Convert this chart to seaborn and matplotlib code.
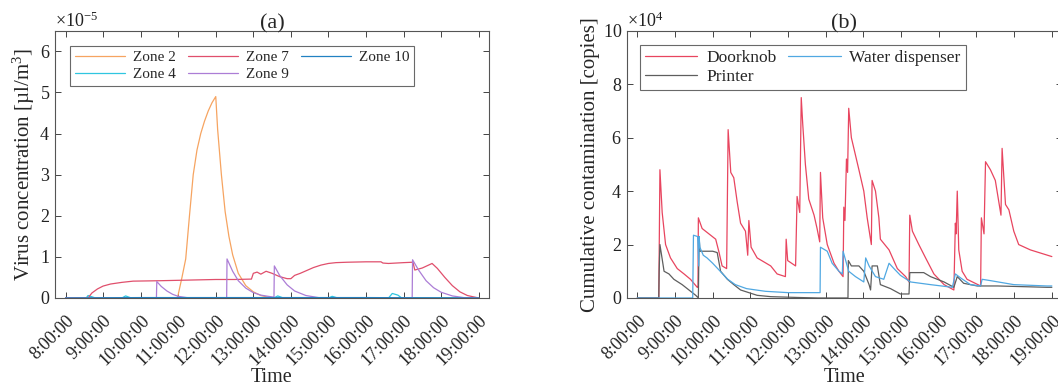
import pandas as pd
import matplotlib
matplotlib.use("Agg")
import matplotlib.pyplot as plt
from matplotlib.transforms import ScaledTranslation
import seaborn as sns

# (a) virus concentration per zone, x1e-5 ul/m3, time in hours
zone2_t = [8.0, 10.98, 11.1, 11.2, 11.3, 11.4, 11.5, 11.6, 11.7, 11.8, 11.9, 12.0, 12.05, 12.15, 12.25, 12.35, 12.45, 12.6, 12.8, 13.0, 13.2, 13.4, 13.6, 19.0]
zone2_v = [0, 0, 0.5, 0.95, 2.0, 3.0, 3.6, 4.0, 4.3, 4.55, 4.75, 4.9, 4.1, 3.0, 2.1, 1.5, 1.05, 0.6, 0.3, 0.15, 0.06, 0.02, 0, 0]

zone4_t = [8.0, 8.55, 8.6, 8.7, 8.8, 9.5, 9.6, 9.75, 13.55, 13.65, 13.8, 15.0, 15.1, 15.25, 16.6, 16.7, 16.85, 16.95, 19.0]
zone4_v = [0, 0, 0.06, 0.03, 0, 0, 0.05, 0, 0, 0.05, 0, 0, 0.04, 0, 0, 0.11, 0.07, 0, 0]

zone7_t = [8.0, 8.6, 8.7, 8.85, 9.0, 9.2, 9.5, 9.8, 10.5, 11.0, 11.5, 12.0, 12.5, 12.95, 13.0, 13.1, 13.2, 13.34, 13.5, 13.7, 13.9, 14.0, 14.1, 14.25, 14.4, 14.6, 14.8, 15.0, 15.2, 15.5, 16.0, 16.4, 16.45, 16.6, 17.0, 17.25, 17.3, 17.5, 17.76, 17.9, 18.1, 18.3, 18.5, 18.7, 18.9, 19.0]
zone7_v = [0, 0, 0.12, 0.22, 0.29, 0.34, 0.38, 0.41, 0.42, 0.43, 0.44, 0.45, 0.45, 0.46, 0.6, 0.63, 0.58, 0.65, 0.6, 0.52, 0.47, 0.47, 0.55, 0.6, 0.66, 0.74, 0.8, 0.84, 0.86, 0.87, 0.88, 0.88, 0.85, 0.84, 0.86, 0.87, 0.68, 0.73, 0.84, 0.72, 0.5, 0.3, 0.15, 0.06, 0.02, 0.0]

zone9_t = [8.0, 10.42, 10.43, 10.55, 10.7, 10.85, 11.0, 11.3, 12.29, 12.3, 12.45, 12.6, 12.8, 13.0, 13.2, 13.4, 13.55, 13.56, 13.7, 13.9, 14.1, 14.4, 14.8, 17.23, 17.24, 17.4, 17.6, 17.8, 18.0, 18.3, 18.6, 19.0]
zone9_v = [0, 0, 0.4, 0.28, 0.17, 0.09, 0.04, 0, 0, 0.95, 0.65, 0.42, 0.24, 0.13, 0.07, 0.04, 0.02, 0.78, 0.55, 0.32, 0.17, 0.06, 0, 0, 0.93, 0.68, 0.42, 0.25, 0.14, 0.05, 0.01, 0]

zone10_t = [8.0, 10.0, 12.0, 14.0, 16.0, 19.0]
zone10_v = [0, 0.01, 0.01, 0.01, 0.01, 0]

# (b) cumulative contamination, x1e4 copies
door_t = [8.0, 8.57, 8.6, 8.66, 8.75, 8.88, 9.06, 9.24, 9.41, 9.59, 9.61, 9.62, 9.72, 9.9, 10.08, 10.17, 10.25, 10.37, 10.39, 10.41, 10.48, 10.56, 10.65, 10.74, 10.87, 10.93, 10.96, 11.02, 11.18, 11.54, 11.71, 11.93, 11.95, 11.99, 12.2, 12.24, 12.31, 12.35, 12.39, 12.46, 12.55, 12.69, 12.77, 12.84, 12.86, 12.92, 13.04, 13.22, 13.35, 13.46, 13.48, 13.51, 13.55, 13.58, 13.61, 13.68, 13.88, 14.01, 14.1, 14.21, 14.23, 14.32, 14.41, 14.45, 14.68, 14.9, 15.12, 15.21, 15.23, 15.3, 15.47, 15.65, 15.87, 16.14, 16.4, 16.44, 16.46, 16.49, 16.53, 16.62, 16.75, 17.11, 17.13, 17.2, 17.24, 17.37, 17.5, 17.65, 17.68, 17.77, 17.86, 17.99, 18.12, 18.43, 19.0]
door_v = [0, 0, 4.8, 3.2, 2.0, 1.5, 1.1, 0.9, 0.7, 0.4, 0.4, 3.0, 2.6, 2.4, 2.2, 1.7, 1.2, 1.1, 3.7, 6.3, 4.7, 4.5, 3.6, 2.8, 2.5, 1.6, 2.9, 1.9, 1.5, 1.2, 0.9, 0.8, 2.2, 1.4, 1.2, 3.8, 3.2, 7.5, 6.5, 5.0, 3.7, 3.1, 2.6, 2.1, 4.7, 3.0, 2.0, 1.3, 1.0, 0.8, 3.4, 2.9, 5.2, 4.7, 7.1, 6.0, 4.8, 4.0, 3.0, 2.0, 4.4, 4.0, 3.0, 2.2, 1.8, 1.1, 0.8, 0.6, 3.1, 2.5, 2.0, 1.5, 0.9, 0.5, 0.3, 2.8, 2.4, 4.0, 1.8, 1.0, 0.7, 0.45, 3.0, 2.4, 5.1, 4.8, 4.4, 3.1, 5.6, 3.5, 3.3, 2.5, 2.0, 1.8, 1.55]

water_t = [8.0, 9.47, 9.49, 9.6, 9.63, 9.64, 9.66, 9.75, 9.85, 10.0, 10.2, 10.4, 10.6, 10.9, 11.4, 12.0, 12.85, 12.86, 13.04, 13.17, 13.35, 13.44, 13.46, 13.61, 13.79, 14.01, 14.06, 14.15, 14.32, 14.54, 14.68, 14.81, 14.98, 15.25, 15.78, 16.36, 16.44, 16.58, 16.84, 17.11, 17.15, 17.37, 17.99, 18.87, 19.0]
water_v = [0, 0, 2.35, 2.3, 1.2, 2.3, 1.9, 1.6, 1.5, 1.3, 1.0, 0.7, 0.5, 0.35, 0.25, 0.2, 0.2, 1.9, 1.75, 1.3, 1.0, 0.9, 1.75, 1.0, 0.8, 0.6, 1.5, 1.2, 0.8, 0.7, 1.3, 1.1, 0.85, 0.6, 0.5, 0.4, 0.9, 0.75, 0.5, 0.45, 0.7, 0.65, 0.5, 0.45, 0.45]

print_t = [8.0, 8.57, 8.58, 8.6, 8.71, 8.84, 8.97, 9.19, 9.37, 9.55, 9.62, 9.63, 9.64, 9.66, 9.68, 10.0, 10.12, 10.21, 10.39, 10.56, 10.74, 11.18, 11.54, 12.24, 12.8, 13.59, 13.6, 13.68, 13.88, 14.01, 14.15, 14.19, 14.23, 14.37, 14.45, 14.72, 14.98, 15.21, 15.23, 15.6, 15.78, 16.14, 16.4, 16.49, 16.66, 17.02, 17.56, 18.87, 19.0]
print_v = [0, 0, 1.0, 2.0, 1.0, 0.9, 0.7, 0.5, 0.3, 0.1, 0.0, 1.2, 2.3, 1.75, 1.75, 1.75, 1.7, 1.0, 0.7, 0.5, 0.3, 0.1, 0.05, 0.02, 0.0, 0.0, 1.4, 1.2, 1.2, 1.0, 0.5, 0.3, 1.2, 1.2, 0.5, 0.35, 0.15, 0.15, 0.95, 0.95, 0.8, 0.6, 0.4, 0.8, 0.55, 0.45, 0.45, 0.4, 0.4]

hours = list(range(8, 20))
hour_labels = [f"{h}:00:00" for h in hours]

zone_colors = {"Zone 2": "#F6A461", "Zone 4": "#2FC6E0", "Zone 7": "#E04F6C",
               "Zone 9": "#AC7DD6", "Zone 10": "#2281C2"}
item_colors = {"Doorknob": "#E8455F", "Printer": "#5E5E5E", "Water dispenser": "#50A8E2"}


def long_df(series):
    frames = []
    for name, t, v, scale in series:
        frames.append(pd.DataFrame({"time": t, "value": [x * scale for x in v], "series": name}))
    return pd.concat(frames, ignore_index=True)


conc_df = long_df([("Zone 2", zone2_t, zone2_v, 1e-5), ("Zone 4", zone4_t, zone4_v, 1e-5),
                   ("Zone 7", zone7_t, zone7_v, 1e-5), ("Zone 9", zone9_t, zone9_v, 1e-5),
                   ("Zone 10", zone10_t, zone10_v, 1e-5)])
cont_df = long_df([("Doorknob", door_t, door_v, 1e4), ("Printer", print_t, print_v, 1e4),
                   ("Water dispenser", water_t, water_v, 1e4)])

sns.set_theme(style="ticks")
plt.rcParams["font.family"] = ["Liberation Serif", "DejaVu Serif"]
plt.rcParams["mathtext.fontset"] = "custom"
plt.rcParams["mathtext.rm"] = "Liberation Serif"
plt.rcParams["mathtext.it"] = "Liberation Serif:italic"

fig = plt.figure(figsize=(10.58, 3.85), dpi=100)
ax1 = fig.add_axes([0.052, 0.226, 0.410, 0.694])
ax2 = fig.add_axes([0.5924, 0.226, 0.4114, 0.694])

sns.lineplot(data=conc_df, x="time", y="value", hue="series", palette=zone_colors,
             estimator=None, sort=False, linewidth=0.9, ax=ax1)
sns.lineplot(data=cont_df, x="time", y="value", hue="series", palette=item_colors,
             estimator=None, sort=False, linewidth=0.9, ax=ax2)

shift = ScaledTranslation(5 / 100, 0, fig.dpi_scale_trans)
for ax, ymax, step, power in [(ax1, 6.5e-5, 1e-5, -5), (ax2, 10e4, 2e4, 4)]:
    ax.set_xlim(7.72, 19.27)
    ax.set_ylim(0, ymax)
    ax.set_xticks(hours)
    ax.set_xticklabels(hour_labels, rotation=45, ha="right", rotation_mode="anchor")
    for lab in ax.get_xticklabels():
        lab.set_transform(lab.get_transform() + shift)
    ax.set_yticks([i * step for i in range(int(round(ymax / step)) + 1)])
    ax.ticklabel_format(axis="y", style="sci", scilimits=(power, power), useMathText=True)
    ax.yaxis.get_offset_text().set_fontsize(13)
    ax.yaxis.get_offset_text().set_color("#333333")
    ax.tick_params(direction="in", top=True, right=True, length=4, width=0.7,
                   color="#444444", labelsize=13, labelcolor="#222222")
    ax.tick_params(axis="x", pad=10)
    for sp in ax.spines.values():
        sp.set_visible(True)
        sp.set_color("#555555")
        sp.set_linewidth(0.8)
    ax.set_xlabel("Time", fontsize=14.5)
    ax.xaxis.set_label_coords(0.5, -0.262)

ax1.set_ylabel("Virus concentration [µl/m$^3$]", fontsize=15, labelpad=2)
ax2.set_ylabel("Cumulative contamination [copies]", fontsize=15, labelpad=2)
ax1.set_title("(a)", fontsize=16, pad=2)
ax2.set_title("(b)", fontsize=16, pad=2)

h, l = ax1.get_legend_handles_labels()
ax1.legend(h, l, ncol=3, loc="upper left", bbox_to_anchor=(0.0346, 0.944), fontsize=11,
           frameon=True, fancybox=False, edgecolor="#444444", handlelength=3.3,
           columnspacing=0.8, borderpad=0.3, borderaxespad=0, labelspacing=0.22,
           handletextpad=0.5)
h, l = ax2.get_legend_handles_labels()
ax2.legend(h, l, ncol=2, loc="upper left", bbox_to_anchor=(0.0306, 0.948), fontsize=12.5,
           frameon=True, fancybox=False, edgecolor="#444444", handlelength=3.0,
           columnspacing=0.7, borderpad=0.3, borderaxespad=0, labelspacing=0.15,
           handletextpad=0.5)
for leg in (ax1.get_legend(), ax2.get_legend()):
    leg.get_frame().set_linewidth(0.8)

fig.savefig("out.png", dpi=100)
